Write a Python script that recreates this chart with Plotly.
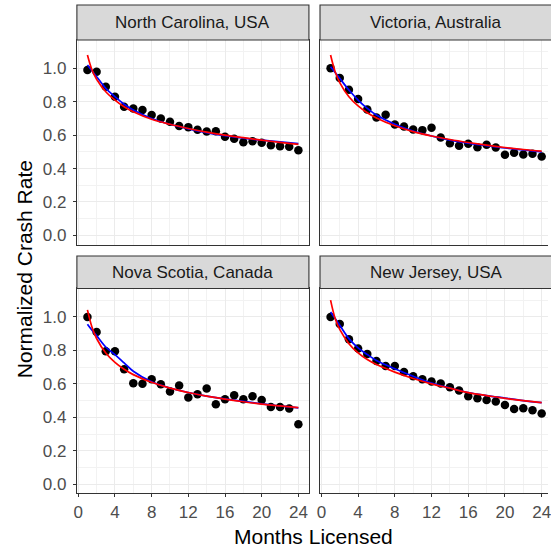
import plotly.graph_objects as go

# ---------------- data ----------------
months = list(range(1, 25))

nc_rate = [0.99, 0.98, 0.89, 0.83, 0.77, 0.76, 0.75, 0.72, 0.70, 0.68, 0.655, 0.648,
           0.632, 0.622, 0.624, 0.59, 0.578, 0.558, 0.564, 0.554, 0.54, 0.534, 0.53, 0.51]
vic_rate = [1.00, 0.942, 0.872, 0.816, 0.754, 0.706, 0.722, 0.664, 0.652, 0.634, 0.63, 0.644,
            0.586, 0.552, 0.536, 0.548, 0.528, 0.542, 0.526, 0.482, 0.494, 0.484, 0.488, 0.472]
ns_rate = [1.00, 0.91, 0.795, 0.795, 0.687, 0.604, 0.60, 0.627, 0.598, 0.554, 0.59, 0.518,
           0.538, 0.572, 0.478, 0.508, 0.532, 0.508, 0.526, 0.504, 0.462, 0.462, 0.452, 0.359]
nj_rate = [1.00, 0.958, 0.867, 0.811, 0.779, 0.737, 0.707, 0.707, 0.671, 0.645, 0.627, 0.614,
           0.602, 0.580, 0.560, 0.526, 0.514, 0.504, 0.494, 0.474, 0.450, 0.454, 0.442, 0.422]

curve_x = [1, 1.5, 2, 3, 4, 5, 6, 8, 10, 12, 14, 16, 18, 20, 22, 24]

nc_blue = [1.02, 0.985, 0.95, 0.88, 0.83, 0.785, 0.75, 0.70, 0.665, 0.638, 0.615, 0.597, 0.582, 0.57, 0.56, 0.55]
nc_red = [1.08, 0.99, 0.935, 0.86, 0.81, 0.77, 0.74, 0.695, 0.665, 0.64, 0.618, 0.60, 0.585, 0.57, 0.557, 0.545]

vic_blue = [1.01, 0.975, 0.94, 0.87, 0.81, 0.76, 0.72, 0.665, 0.625, 0.595, 0.57, 0.552, 0.537, 0.523, 0.512, 0.50]
vic_red = [1.08, 0.98, 0.915, 0.83, 0.775, 0.734, 0.703, 0.656, 0.621, 0.595, 0.574, 0.556, 0.54, 0.526, 0.514, 0.504]

ns_blue = [0.956, 0.92, 0.888, 0.82, 0.775, 0.725, 0.675, 0.612, 0.575, 0.548, 0.527, 0.51, 0.495, 0.48, 0.468, 0.456]
ns_red = [1.042, 0.938, 0.871, 0.784, 0.728, 0.687, 0.655, 0.609, 0.574, 0.548, 0.526, 0.509, 0.493, 0.479, 0.468, 0.458]

nj_blue = [1.03, 0.99, 0.95, 0.87, 0.815, 0.775, 0.74, 0.69, 0.645, 0.605, 0.575, 0.548, 0.53, 0.515, 0.50, 0.488]
nj_red = [1.10, 0.99, 0.925, 0.84, 0.785, 0.745, 0.715, 0.67, 0.632, 0.60, 0.574, 0.547, 0.53, 0.513, 0.50, 0.488]

panel_titles = ["North Carolina, USA", "Victoria, Australia", "Nova Scotia, Canada", "New Jersey, USA"]
x_ticks = [0, 4, 8, 12, 16, 20, 24]
y_ticks = [0.0, 0.2, 0.4, 0.6, 0.8, 1.0]
y_tick_text = ["0.0", "0.2", "0.4", "0.6", "0.8", "1.0"]

# ---------------- layout geometry ----------------
W = 551.0
def fx(p):
    return p / W
def fy(p):
    return 1 - p / W

col_px = [(74.7, 309.3), (320.5, 551.0)]
row_px = [(40.0, 245.0), (289.0, 494.3)]
strip_px = [(5.0, 40.0), (256.5, 289.0)]
x_ranges = [[-0.15, 25.15], [-0.15, 24.69]]
y_range = [-0.055, 1.17]

rates = [nc_rate, vic_rate, ns_rate, nj_rate]
blues = [nc_blue, vic_blue, ns_blue, nj_blue]
reds = [nc_red, vic_red, ns_red, nj_red]

FONT = "Liberation Sans, Arial, sans-serif"
fig = go.Figure()
layout = dict(
    width=551, height=551,
    margin=dict(l=0, r=0, t=0, b=0),
    paper_bgcolor="white", plot_bgcolor="white",
    showlegend=False,
    font=dict(family=FONT),
)
shapes = []
annotations = []

for i in range(4):
    r, c = divmod(i, 2)
    sfx = "" if i == 0 else str(i + 1)
    xa, ya = "x" + sfx, "y" + sfx
    fig.add_trace(go.Scatter(x=months, y=rates[i], mode="markers",
                             marker=dict(color="black", size=8.5),
                             xaxis=xa, yaxis=ya, hoverinfo="skip"))
    fig.add_trace(go.Scatter(x=curve_x, y=blues[i], mode="lines",
                             line=dict(color="#0000FF", width=1.7, shape="spline"),
                             xaxis=xa, yaxis=ya, hoverinfo="skip"))
    fig.add_trace(go.Scatter(x=curve_x, y=reds[i], mode="lines",
                             line=dict(color="#FF0000", width=1.7, shape="spline"),
                             xaxis=xa, yaxis=ya, hoverinfo="skip"))

    x0, x1 = col_px[c]
    ytop, ybot = row_px[r]
    layout["xaxis" + sfx] = dict(
        domain=[fx(x0), fx(x1)], range=x_ranges[c], anchor=ya,
        tickmode="array", tickvals=x_ticks, ticktext=[str(t) for t in x_ticks],
        showticklabels=(r == 1), ticks="outside" if r == 1 else "",
        ticklen=3, tickwidth=1.1, tickcolor="#333333",
        tickfont=dict(size=17, color="#4D4D4D", family=FONT),
        ticklabeloverflow="allow", ticklabelstandoff=0,
        showgrid=True, gridcolor="#EBEBEB", gridwidth=1.1,
        minor=dict(tickmode="array", tickvals=[2, 6, 10, 14, 18, 22], showgrid=True,
                   gridcolor="#F2F2F2", gridwidth=0.6),
        zeroline=False, showline=True, linecolor="#333333", linewidth=1.1, mirror=True,
        fixedrange=True,
    )
    layout["yaxis" + sfx] = dict(
        domain=[fy(ybot), fy(ytop)], range=y_range, anchor=xa,
        tickmode="array", tickvals=y_ticks, ticktext=y_tick_text,
        showticklabels=(c == 0), ticks="outside" if c == 0 else "",
        ticklen=3, tickwidth=1.1, tickcolor="#333333",
        tickfont=dict(size=17, color="#4D4D4D", family=FONT),
        ticklabelstandoff=3,
        showgrid=True, gridcolor="#EBEBEB", gridwidth=1.1,
        minor=dict(tickmode="array", tickvals=[0.1, 0.3, 0.5, 0.7, 0.9, 1.1], showgrid=True,
                   gridcolor="#F2F2F2", gridwidth=0.6),
        zeroline=False, showline=True, linecolor="#333333", linewidth=1.1,
        mirror=(c == 0), fixedrange=True,
    )

    s0, s1 = strip_px[r]
    sx1 = x1 if c == 0 else 556.0
    shapes.append(dict(type="rect", xref="paper", yref="paper",
                       x0=fx(x0), x1=fx(sx1), y0=fy(s1), y1=fy(s0),
                       fillcolor="#D9D9D9", line=dict(color="#333333", width=1.1)))
    annotations.append(dict(text=panel_titles[i], xref="paper", yref="paper",
                            x=fx((x0 + sx1) / 2), y=fy((s0 + s1) / 2),
                            xanchor="center", yanchor="middle", showarrow=False,
                            font=dict(size=17, color="#1A1A1A", family=FONT)))

annotations.append(dict(text="Months Licensed", xref="paper", yref="paper",
                        x=fx(314), y=fy(537), xanchor="center", yanchor="middle",
                        showarrow=False, font=dict(size=21, color="black", family=FONT)))
annotations.append(dict(text="Normalized Crash Rate", xref="paper", yref="paper",
                        x=fx(22), y=fy(270), xanchor="center", yanchor="middle",
                        textangle=-90, showarrow=False,
                        font=dict(size=21, color="black", family=FONT)))

layout["shapes"] = shapes
layout["annotations"] = annotations
fig.update_layout(**layout)
fig.write_html("out.html", config={"displayModeBar": False},
               post_script="document.body.style.margin='0';document.body.style.overflow='hidden';")
